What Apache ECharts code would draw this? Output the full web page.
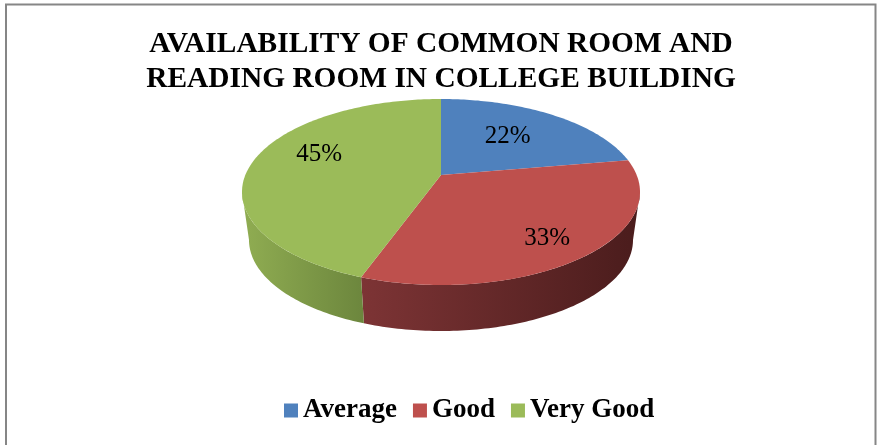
<!DOCTYPE html>
<html>
<head>
<meta charset="utf-8">
<style>
html,body{margin:0;padding:0;background:#fff;}
#main{width:877px;height:445px;}
</style>
<script src="https://cdn.jsdelivr.net/npm/echarts@6/dist/echarts.min.js"></script>
</head>
<body>
<div id="main"></div>
<script>
var categories = ['Average', 'Good', 'Very Good'];
var values = [22, 33, 45];
var titleText = 'AVAILABILITY OF COMMON ROOM AND\nREADING ROOM IN COLLEGE BUILDING';

var faceColors = ['#4F81BD', '#BE504D', '#9BBB59'];
var wallStops = [
    ['#4F81BD', '#4F81BD'],
    ['#7D3435', '#4A1C1C'],
    ['#90AD52', '#6C863D']
];
// label placement: radius fraction and angle shift per slice
var labelRadius = [0.6, 0.79, 0.69];
var labelShift = [-2, 2.5, 10];

// top face ellipse, bottom rim ellipse, perspective shift of the pie centre
var topRim = {cx: 441, cy: 192, rx: 199, ry: 93};
var bottomRim = {cx: 441, cy: 240, rx: 192, ry: 91};
var k = -0.183;

var total = values.reduce(function (a, b) { return a + b; }, 0);

// degrees clockwise from 12 o'clock -> screen position on a rim
function project(rim, deg, r) {
    var t = deg * Math.PI / 180;
    var u = r * Math.sin(t);
    var v = -r * Math.cos(t);
    var d = 1 + k * v;
    return [
        rim.cx + rim.rx * u * Math.sqrt(1 - k * k) / d,
        rim.cy + rim.ry * (v + k) / d
    ];
}

// slight foreshortening of the slice edges, the tilted view spreads them a bit
function tilt(deg) {
    return deg + 3 * Math.sin(2 * deg * Math.PI / 180);
}

function arc(rim, from, to) {
    var pts = [];
    var n = Math.max(2, Math.ceil(Math.abs(to - from)));
    for (var i = 0; i <= n; i++) {
        pts.push(project(rim, from + (to - from) * i / n, 1));
    }
    return pts;
}

// part of the circle where the side wall can be seen
var wallFrom = Math.acos(k) * 180 / Math.PI;
var wallTo = 360 - wallFrom;

function renderSlice(params, api) {
    var i = params.seriesIndex;
    var before = 0;
    for (var j = 0; j < i; j++) before += values[j];
    var start = tilt(before / total * 360);
    var end = tilt((before + api.value(0)) / total * 360);
    var children = [];

    var from = Math.max(start, wallFrom);
    var to = Math.min(end, wallTo);
    if (to > from) {
        children.push({
            type: 'polygon',
            shape: {points: arc(topRim, from, to).concat(arc(bottomRim, to, from))},
            style: {
                fill: new echarts.graphic.LinearGradient(0, 0, 1, 0, [
                    {offset: 0, color: wallStops[i][0]},
                    {offset: 1, color: wallStops[i][1]}
                ])
            }
        });
    }

    children.push({
        type: 'polygon',
        shape: {points: [project(topRim, 0, 0)].concat(arc(topRim, start, end))},
        style: {fill: faceColors[i]}
    });

    var lp = project(topRim, (start + end) / 2 + labelShift[i], labelRadius[i]);
    children.push({
        type: 'text',
        z2: 10,
        x: lp[0],
        y: lp[1],
        style: {
            text: api.value(0) + '%',
            fill: '#000',
            font: '25px "Liberation Serif"',
            align: 'center',
            verticalAlign: 'middle'
        }
    });
    return {type: 'group', children: children};
}

var myChart = echarts.init(document.getElementById('main'), null, {renderer: 'canvas'});
var option = {
    backgroundColor: '#fff',
    animation: false,
    title: {
        text: titleText,
        left: 436,
        top: 22,
        textAlign: 'center',
        textStyle: {
            fontFamily: 'Liberation Serif',
            fontWeight: 'bold',
            fontSize: 29.4,
            lineHeight: 35,
            color: '#000'
        }
    },
    legend: {
        left: 279,
        top: 392,
        icon: 'rect',
        itemWidth: 14,
        itemHeight: 14,
        itemGap: 16,
        data: categories,
        selectedMode: false,
        textStyle: {
            fontFamily: 'Liberation Serif',
            fontWeight: 'bold',
            fontSize: 27,
            color: '#000',
            padding: [0, 0, 0, 0]
        }
    },
    graphic: [{
        type: 'rect',
        silent: true,
        shape: {x: 6, y: 4.5, width: 869.5, height: 470},
        style: {fill: 'none', stroke: '#868686', lineWidth: 2}
    }],
    series: categories.map(function (name, i) {
        return {
            type: 'custom',
            name: name,
            coordinateSystem: 'none',
            silent: true,
            itemStyle: {color: faceColors[i]},
            renderItem: renderSlice,
            data: [[values[i]]]
        };
    })
};
myChart.setOption(option);
</script>
</body>
</html>
